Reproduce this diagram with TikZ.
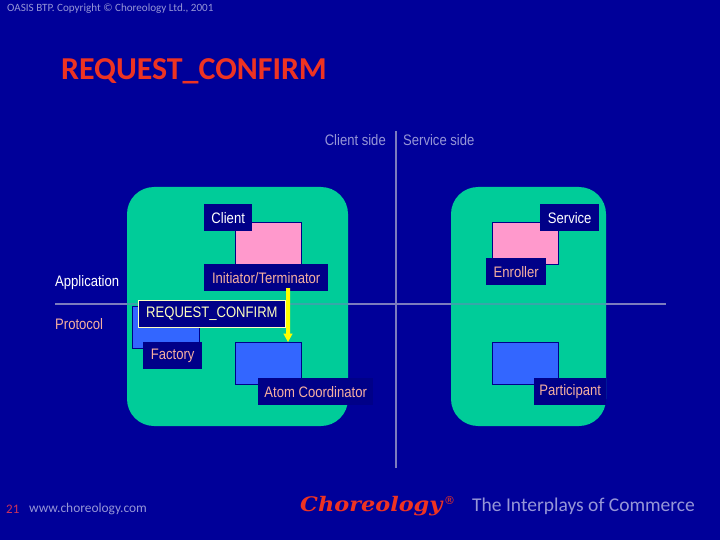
\documentclass[tikz,border=0pt]{standalone}
\usepackage{fontspec}
\setmainfont{Liberation Sans}
\newfontfamily\lblfont[FakeStretch=0.86]{Liberation Sans}
\newfontfamily\slidefont{Carlito}
\newfontfamily\logofont[FakeStretch=1.12]{DejaVu Serif}
\newfontfamily\regfont{DejaVu Sans}
\definecolor{slidebg}{RGB}{0,0,153}
\definecolor{lblbg}{RGB}{0,0,136}
\definecolor{grn}{RGB}{0,204,153}
\definecolor{pinkb}{RGB}{255,153,204}
\definecolor{blueb}{RGB}{51,102,255}
\definecolor{linec}{RGB}{124,124,190}
\definecolor{redt}{RGB}{238,51,34}
\definecolor{numc}{RGB}{205,50,90}
\definecolor{peach}{RGB}{245,175,160}
\definecolor{greyt}{RGB}{150,150,215}
\definecolor{paley}{RGB}{255,255,190}
\definecolor{yell}{RGB}{255,255,0}
\tikzset{
 panel/.style={fill=grn,draw=none,rounded corners=27pt},
 pinkbox/.style={fill=pinkb,draw=lblbg,line width=0.7pt},
 bluebox/.style={fill=blueb,draw=lblbg,line width=0.7pt},
 lbl/.style={fill=lblbg,inner sep=0pt,anchor=north west,align=center,font=\lblfont\fontsize{15.2pt}{17pt}\selectfont},
 rule/.style={draw=linec,line width=1.6pt},
 plain/.style={inner sep=0pt,font=\lblfont\fontsize{15.2pt}{17pt}\selectfont,text=white}
}
\begin{document}
\begin{tikzpicture}[x=1pt,y=-1pt]
\useasboundingbox (0,0) rectangle (720,540);
\fill[slidebg] (0,0) rectangle (720,540);
\fill[panel] (127,187) rectangle (348,426);
\fill[panel] (451,187) rectangle (606,426);
\coordinate (hl) at (55,304);
\coordinate (hr) at (666,304);
\coordinate (vt) at (396,131);
\coordinate (vb) at (396,468);
\draw[rule] (hl) -- (hr);
\draw[rule] (vt) -- (vb);
\fill[grn,opacity=0.55] (127,303) rectangle (348,305);
\fill[grn,opacity=0.55] (451,303) rectangle (606,305);
\node[pinkbox,minimum width=66pt,minimum height=42pt,inner sep=0pt,anchor=north west] (pinkL) at (235,222) {};
\node[pinkbox,minimum width=66pt,minimum height=42pt,inner sep=0pt,anchor=north west] (pinkR) at (492,222) {};
\node[bluebox,minimum width=67pt,minimum height=42pt,inner sep=0pt,anchor=north west] (fac) at (132,306) {};
\node[bluebox,minimum width=66pt,minimum height=42pt,inner sep=0pt,anchor=north west] (atom) at (235,342) {};
\node[bluebox,minimum width=66pt,minimum height=42pt,inner sep=0pt,anchor=north west] (part) at (492,342) {};
\node[lbl,text=white,minimum width=48pt,minimum height=27pt] (client) at (204,204) {Client};
\node[lbl,text=peach,minimum width=124pt,minimum height=27pt] (init) at (204,264) {Initiator/Terminator};
\node[lbl,text=peach,minimum width=59pt,minimum height=27pt] (factory) at (143,342) {Factory};
\node[lbl,text=peach,minimum width=115pt,minimum height=27pt] (atomc) at (258,378) {Atom Coordinator};
\node[lbl,text=white,minimum width=59pt,minimum height=27pt] (service) at (540,204) {Service};
\node[lbl,text=peach,minimum width=60pt,minimum height=27pt] (enrol) at (486,258) {Enroller};
\node[lbl,text=peach,minimum width=72pt,minimum height=27pt] (parti) at (534,378) {Participant};
\node[lbl,draw=paley,line width=0.8pt,text=paley,minimum width=147pt,minimum height=27pt] (req) at (138,300) {REQUEST\_CONFIRM};
\fill[yell] (286,288) -- (290,288) -- (290,333.5) -- (292.7,333.5) -- (288,342) -- (283.3,333.5) -- (286,333.5) -- cycle;
\node[plain,anchor=west] (app) at (55,283) {Application};
\node[plain,anchor=west,text=peach] (prot) at (55,324) {Protocol};
\node[plain,anchor=east,text=greyt] (cs) at (386,140) {Client side};
\node[plain,anchor=west,text=greyt] (ss) at (403,140) {Service side};
\node[inner sep=0pt,anchor=west,text=greyt,font=\slidefont\fontsize{11.1pt}{13pt}\selectfont] (copy) at (7,9) {OASIS BTP. Copyright © Choreology Ltd., 2001};
\node[inner sep=0pt,anchor=west,text=redt,font=\slidefont\bfseries\fontsize{31.9pt}{34pt}\selectfont] (title) at (61,71) {REQUEST\_CONFIRM};
\node[inner sep=0pt,anchor=west,text=numc,font=\slidefont\fontsize{13pt}{15pt}\selectfont] (num) at (6,509) {21};
\node[inner sep=0pt,anchor=west,text=greyt,font=\slidefont\fontsize{13.4pt}{15pt}\selectfont] (url) at (29,509) {www.choreology.com};
\node[inner sep=0pt,anchor=west,text=redt,font=\logofont\bfseries\itshape\fontsize{20pt}{22pt}\selectfont] (logo) at (300,506) {Choreology};
\node[inner sep=0pt,anchor=west,text=redt,font=\regfont\fontsize{11pt}{12pt}\selectfont] (reg) at (444,501) {®};
\node[inner sep=0pt,anchor=west,text=greyt,font=\slidefont\fontsize{19.5pt}{22pt}\selectfont] (tag) at (472,506) {The Interplays of Commerce};
\end{tikzpicture}
\end{document}
